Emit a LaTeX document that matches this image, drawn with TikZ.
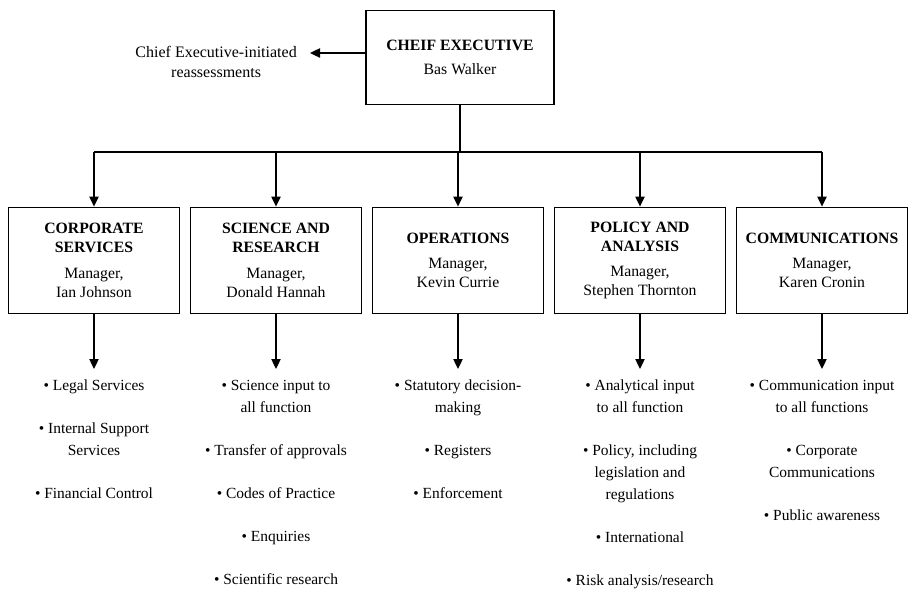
\documentclass[tikz,border=0pt]{standalone}
\usepackage{fontspec}
\setmainfont{Liberation Serif}
\usetikzlibrary{arrows.meta}

\begin{document}
\begin{tikzpicture}[x=0.75pt, y=-0.75pt,
    box/.style={draw, line width=0.9pt, align=center, minimum width=128pt,
        minimum height=80pt, inner sep=2pt, font=\fontsize{11.8}{14.2}\selectfont},
    items/.style={align=center, anchor=north, inner xsep=0pt, inner ysep=8pt,
        font=\fontsize{11.6}{16.5}\selectfont},
    arr/.style={line width=0.9pt, -{Triangle[length=7.5pt, width=7pt]}},
    conn/.style={line width=0.9pt}]

    \useasboundingbox (0,0) rectangle (908,589);

    % Define spacing of the department columns
    \def\spacing{182}
    \def\gap{15.8pt}

    % Chief executive on top
    \node[box, minimum width=141pt, minimum height=70pt] (ceo) at (460,57.5)
        {\textbf{CHEIF EXECUTIVE}\\[4pt] Bas Walker};

    % side arrow to the reassessments
    \coordinate (tip) at (310,53);
    \draw[arr] (ceo.west |- tip) -- (tip);
    \node[anchor=north east, align=center, inner sep=0pt,
        font=\fontsize{12}{15}\selectfont] (reassess) at (297,46)
        {Chief Executive-initiated\\reassessments};

    % bus line under the chief executive
    \coordinate (bus) at (460,152);
    \draw[conn] (ceo.south) -- (bus);

    % Draw the 5 department boxes
    \foreach \i/\dep/\hd/\mgr in {
        0/corp/{\textbf{CORPORATE}\\\textbf{SERVICES}}/{Ian Johnson},
        1/sci/{\textbf{SCIENCE AND}\\\textbf{RESEARCH}}/{Donald Hannah},
        2/ops/{\textbf{OPERATIONS}}/{Kevin Currie},
        3/pol/{\textbf{POLICY AND}\\\textbf{ANALYSIS}}/{Stephen Thornton},
        4/comm/{\textbf{COMMUNICATIONS}}/{Karen Cronin}}{
        \pgfmathsetmacro{\xx}{94 + \i*\spacing}
        \node[box] (\dep) at (\xx,260.5) {\hd\\[5pt] Manager,\\ \mgr};
        \draw[arr] (bus -| \dep.north) -- (\dep.north);
    }
    \draw[conn] (bus -| corp.north) -- (bus -| comm.north);

    % functions under each department
    \node[items] (corpfn) at (corp.south |- 0,369)
        {• Legal Services\\[\gap] • Internal Support\\Services\\[\gap] • Financial Control};
    \node[items] (scifn) at (sci.south |- 0,369)
        {• Science input to\\all function\\[\gap] • Transfer of approvals\\[\gap] • Codes of Practice\\[\gap] • Enquiries\\[\gap] • Scientific research};
    \node[items] (opsfn) at (ops.south |- 0,369)
        {• Statutory decision-\\making\\[\gap] • Registers\\[\gap] • Enforcement};
    \node[items] (polfn) at (pol.south |- 0,369)
        {• Analytical input\\to all function\\[\gap] • Policy, including\\legislation and\\regulations\\[\gap] • International\\[\gap] • Risk analysis/research};
    \node[items] (commfn) at (comm.south |- 0,369)
        {• Communication input\\to all functions\\[\gap] • Corporate\\Communications\\[\gap] • Public awareness};

    \foreach \dep in {corp, sci, ops, pol, comm}
        \draw[arr] (\dep.south) -- (\dep fn.north);

\end{tikzpicture}
\end{document}
